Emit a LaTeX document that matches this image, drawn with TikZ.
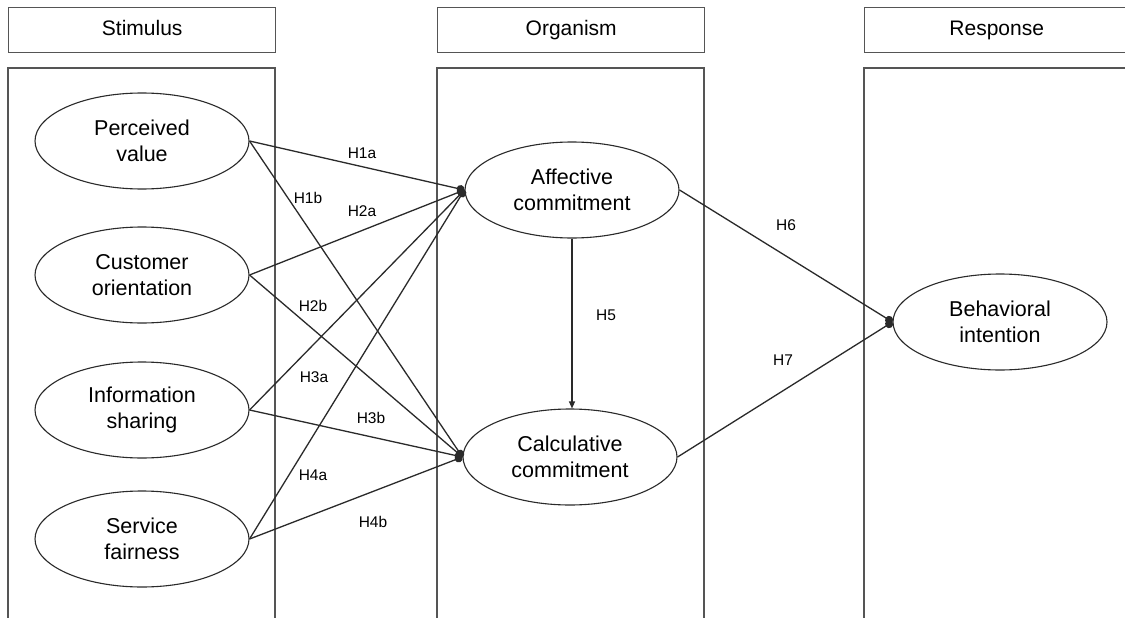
\documentclass[tikz,border=0pt]{standalone}
\usepackage{fontspec}
\setmainfont{Liberation Sans}
\usetikzlibrary{shapes.geometric,arrows.meta}
\definecolor{boxgray}{HTML}{555555}
\definecolor{linegray}{HTML}{2A2A2A}
\begin{document}
\begin{tikzpicture}[x=1pt,y=-1pt,
  hdr/.style={draw=boxgray,line width=1.4pt,minimum width=267pt,minimum height=45pt,inner sep=0pt,text height=15pt,text depth=4pt,font=\fontsize{21}{25}\selectfont},
  panel/.style={draw=boxgray,line width=1.4pt},
  construct/.style={draw=linegray,line width=1.1pt,ellipse,minimum width=214pt,minimum height=96pt,inner sep=0pt,align=center,font=\fontsize{21.5}{25.5}\selectfont},
  path/.style={draw=linegray,line width=1.3pt,-{Circle[length=8pt]}},
  hyp/.style={font=\fontsize{15.5}{17}\selectfont,inner sep=0pt},
]
\useasboundingbox (0,0) rectangle (1125,618);
\fill[white] (0,0) rectangle (1125,618);
% headers
\node[hdr,anchor=north west] (hS) at (8,7) {Stimulus};
\node[hdr,anchor=north west] (hO) at (437,7) {Organism};
\node[hdr,anchor=north west,minimum width=264pt] (hR) at (864,7) {Response};
% panels
\draw[panel] (8,630) -- (8,68) -- (275,68) -- (275,630);
\draw[panel] (437,630) -- (437,68) -- (704,68) -- (704,630);
\draw[panel] (864,630) -- (864,68) -- (1130,68);
% constructs
\node[construct] (pv) at (142,141) {Perceived\\value};
\node[construct] (co) at (142,275) {Customer\\orientation};
\node[construct] (is) at (142,410) {Information\\sharing};
\node[construct] (sf) at (142,539) {Service\\fairness};
\node[construct] (ac) at (572,190) {Affective\\commitment};
\node[construct] (cc) at (570,457) {Calculative\\commitment};
\node[construct] (bi) at (1000,322) {Behavioral\\intention};
% paths
\draw[path] (pv.east) -- (ac.west);
\draw[path] (pv.east) -- (cc.west);
\draw[path] (co.east) -- (ac.west);
\draw[path] (co.east) -- (cc.west);
\draw[path] (is.east) -- (ac.west);
\draw[path] (is.east) -- (cc.west);
\draw[path] (sf.east) -- (ac.west);
\draw[path] (sf.east) -- (cc.west);
\draw[draw=linegray,line width=1.2pt,-{Triangle[length=7pt,width=6pt]}] (ac.south) -- (ac.south |- cc.north);
\draw[path] (ac.east) -- (bi.west);
\draw[path] (cc.east) -- (bi.west);
% labels
\node[hyp] (l1a) at (362,153) {H1a};
\node[hyp] (l1b) at (308,198) {H1b};
\node[hyp] (l2a) at (362,211) {H2a};
\node[hyp] (l2b) at (313,306) {H2b};
\node[hyp] (l3a) at (314,377) {H3a};
\node[hyp] (l3b) at (371,418) {H3b};
\node[hyp] (l4a) at (313,475) {H4a};
\node[hyp] (l4b) at (373,522) {H4b};
\node[hyp] (l5) at (606,315) {H5};
\node[hyp] (l6) at (786,225) {H6};
\node[hyp] (l7) at (783,360) {H7};
\end{tikzpicture}
\end{document}
